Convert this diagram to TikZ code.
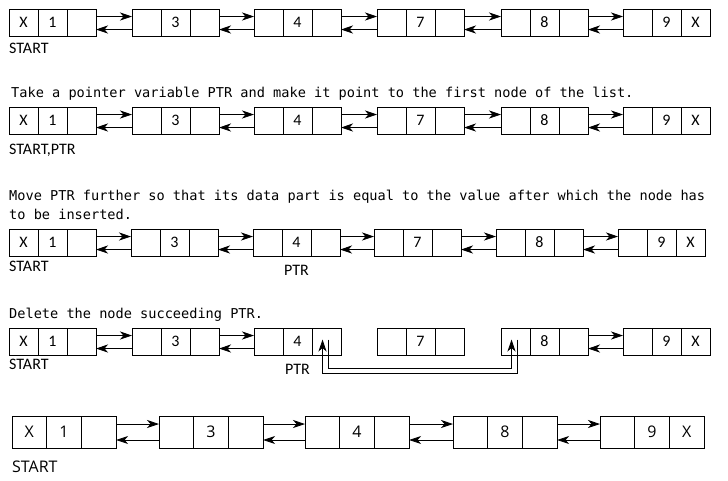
\documentclass[tikz,border=0pt]{standalone}
\usepackage{fontspec}
\setmainfont{Carlito}
\newfontfamily\codefont{DejaVu Sans Mono}
\newfontfamily\bigfont{Open Sans}
\usetikzlibrary{positioning,arrows.meta}

\tikzset{
	cell/.style={draw, line width=0.8pt, minimum width=29pt, minimum height=27pt,
		inner sep=0pt, outer sep=0pt, font=\fontsize{16}{19}\selectfont},
	bigcell/.style={cell, minimum width=34.7pt, minimum height=32pt,
		font=\bigfont\fontsize{16}{19}\selectfont},
	ptr/.style={line width=0.8pt, -{Stealth[length=12pt,width=8pt,inset=3.5pt]}},
	caption/.style={anchor=west, inner sep=0pt, align=left,
		font=\codefont\fontsize{13.6}{19}\selectfont},
	lbl/.style={inner sep=0pt, font=\fontsize{16}{19}\selectfont},
}

\begin{document}
\begin{tikzpicture}[x=1pt, y=-1pt]
	\useasboundingbox (0,0) rectangle (728,480);

	% rows 1, 2 and 4
	\foreach \r/\y in {1/9, 2/107, 4/328} {
		\foreach \i/\x/\p/\v/\n in {1/9/X/1/{}, 2/132/{}/3/{}, 3/254/{}/4/{}, 4/377/{}/7/{}, 5/501/{}/8/{}, 6/623/{}/9/X} {
			\node [cell, anchor=north west] (r\r-\i-p) at (\x,\y) {\p};
			\node [cell, right=0pt of r\r-\i-p] (r\r-\i-d) {\v};
			\node [cell, right=0pt of r\r-\i-d] (r\r-\i-n) {\n};
		}
	}

	% row 3
	\foreach \i/\x/\p/\v/\n in {1/9/X/1/{}, 2/131/{}/3/{}, 3/253/{}/4/{}, 4/374/{}/7/{}, 5/496/{}/8/{}, 6/618/{}/9/X} {
		\node [cell, anchor=north west] (r3-\i-p) at (\x,229) {\p};
		\node [cell, right=0pt of r3-\i-p] (r3-\i-d) {\v};
		\node [cell, right=0pt of r3-\i-d] (r3-\i-n) {\n};
	}

	% row 5
	\foreach \i/\x/\p/\v/\n in {1/12/X/1/{}, 2/159/{}/3/{}, 3/305/{}/4/{}, 4/453/{}/8/{}, 5/600/{}/9/X} {
		\node [bigcell, anchor=north west] (r5-\i-p) at (\x,416) {\p};
		\node [bigcell, right=0pt of r5-\i-p] (r5-\i-d) {\v};
		\node [bigcell, right=0pt of r5-\i-d] (r5-\i-n) {\n};
	}

	% links
	\foreach \r/\a/\b in {1/1/2, 1/2/3, 1/3/4, 1/4/5, 1/5/6,
			2/1/2, 2/2/3, 2/3/4, 2/4/5, 2/5/6,
			3/1/2, 3/2/3, 3/3/4, 3/4/5, 3/5/6,
			4/1/2, 4/2/3, 4/5/6} {
		\draw [ptr] ([yshift=6]r\r-\a-n.east) -- ([yshift=6]r\r-\b-p.west);
		\draw [ptr] ([yshift=-7]r\r-\b-p.west) -- ([yshift=-7]r\r-\a-n.east);
	}
	\foreach \a/\b in {1/2, 2/3, 3/4, 4/5} {
		\draw [ptr] ([yshift=8]r5-\a-n.east) -- ([yshift=8]r5-\b-p.west);
		\draw [ptr] ([yshift=-8]r5-\b-p.west) -- ([yshift=-8]r5-\a-n.east);
	}

	% bypass of the deleted node
	\draw [ptr] ([xshift=2,yshift=2]r4-3-n.center) -- ++(0,29) -| ([xshift=-4,yshift=2]r4-5-p.center);
	\draw [ptr] ([xshift=2,yshift=2]r4-5-p.center) -- ++(0,34) -| ([xshift=-4,yshift=2]r4-3-n.center);

	% texts
	\node [caption] (t2) at (11,94) {Take a pointer variable PTR and make it point to the first node of the list.};
	\node [caption] (t3) at (9,204.5) {Move PTR further so that its data part is equal to the value after which the node has\\to be inserted.};
	\node [caption] (t4) at (9,315) {Delete the node succeeding PTR.};

	\node [lbl, below right=7pt and 0pt of r1-1-p.south west] (start1) {START};
	\node [lbl, below right=10pt and 0pt of r2-1-p.south west] (start2) {START,PTR};
	\node [lbl, below right=5pt and 0pt of r3-1-p.south west] (start3) {START};
	\node [lbl, below right=4pt and 0pt of r4-1-p.south west] (start4) {START};
	\node [lbl, below right=13pt and 0pt of r5-1-p.south west, font=\bigfont\fontsize{16}{19}\selectfont] (start5) {START};
	\node [lbl, below=9pt of r3-3-d] (ptr3) {PTR};
	\node [lbl, below=9pt of r4-3-d] (ptr4) {PTR};
\end{tikzpicture}
\end{document}
